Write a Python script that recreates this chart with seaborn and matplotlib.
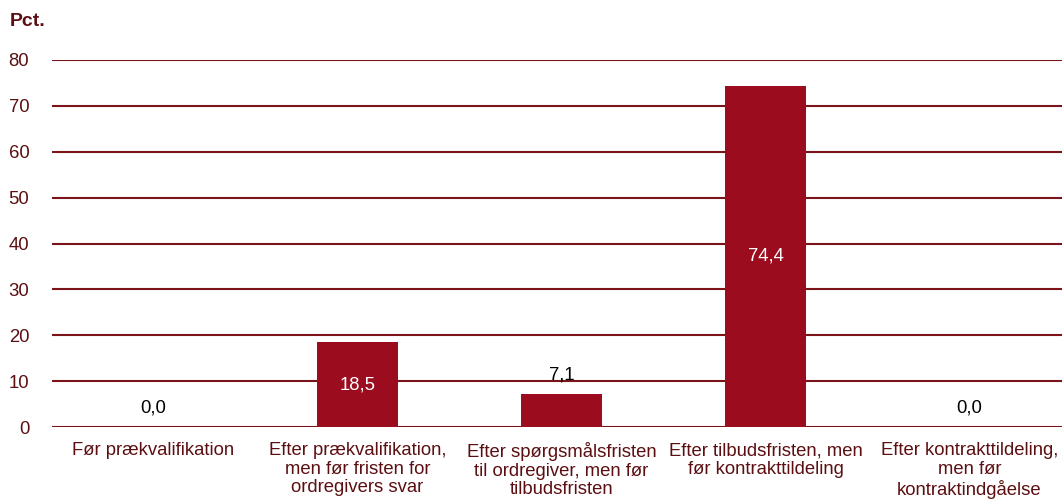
import seaborn as sns
import matplotlib.pyplot as plt
import pandas as pd

categories = [
    "Før prækvalifikation",
    "Efter prækvalifikation,\nmen før fristen for\nordregivers svar",
    "Efter spørgsmålsfristen\ntil ordregiver, men før\ntilbudsfristen",
    "Efter tilbudsfristen, men\nfør kontrakttildeling",
    "Efter kontrakttildeling,\nmen før\nkontraktindgåelse",
]
values = [0.0, 18.5, 7.1, 74.4, 0.0]
yticks = [0, 10, 20, 30, 40, 50, 60, 70, 80]

bar_color = "#9b0c1f"
grid_color = "#7a1419"
text_color = "#5c0f12"

sns.set_style("white")
plt.rcParams["font.family"] = ["Liberation Sans", "DejaVu Sans"]

df = pd.DataFrame({"kategori": categories, "pct": values})

fig = plt.figure(figsize=(10.62, 5), dpi=100)
# axes runs a little past the right edge, like the original
ax = fig.add_axes([0.0485, 0.146, 0.9605, 0.734])

for y in yticks:
    ax.axhline(y, color=grid_color, linewidth=1.5, zorder=0)

sns.barplot(data=df, x="kategori", y="pct", color=bar_color, width=0.4,
            saturation=1, linewidth=0, ax=ax, zorder=2)

ax.set_ylim(0, 80)
ax.set_xlim(-0.5, 4.5)
ax.set_yticks(yticks)
ax.set_xlabel("")
ax.set_ylabel("")
for s in ax.spines.values():
    s.set_visible(False)
ax.tick_params(axis="both", length=0, labelsize=13.3, colors=text_color)
ax.tick_params(axis="y", pad=16)
ax.tick_params(axis="x", pad=11)
for t in ax.get_xticklabels():
    t.set_linespacing(1.12)

for i, v in enumerate(values):
    label = f"{v:.1f}".replace(".", ",")
    if v > 15:
        ax.text(i, v / 2, label, ha="center", va="center", color="white",
                fontsize=13.3, zorder=3)
    else:
        ax.annotate(label, (i, v), xytext=(0, 14), textcoords="offset points",
                    ha="center", va="center", color="black", fontsize=13.3,
                    zorder=3)

fig.text(0.009, 0.957, "Pct.", fontsize=14, fontweight="bold",
         color=text_color, ha="left", va="center")

fig.savefig("out.png", dpi=100)
